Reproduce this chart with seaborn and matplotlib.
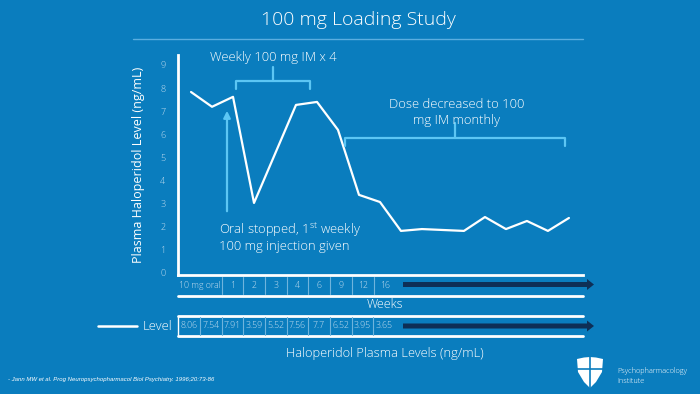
import matplotlib
matplotlib.use("Agg")
import matplotlib.pyplot as plt
import matplotlib.patches as patches
import seaborn as sns
import pandas as pd

sns.set_style("white")
plt.rcParams['font.family'] = ['Open Sans', 'DejaVu Sans']
plt.rcParams['font.weight'] = 'light'
plt.rcParams['mathtext.fontset'] = 'custom'
plt.rcParams['mathtext.rm'] = 'Open Sans:light'

# data
point_idx = [0, 1, 2, 3, 5, 6, 7, 8, 9, 10, 11, 13, 14, 15, 16, 17, 18]
level = [7.83, 7.19, 7.62, 3.03, 7.27, 7.40, 6.19, 3.38, 3.07, 1.82, 1.90,
         1.82, 2.42, 1.90, 2.25, 1.82, 2.38]
yticks = [0, 1, 2, 3, 4, 5, 6, 7, 8, 9]

week_labels = ['10 mg oral', '1', '2', '3', '4', '6', '9', '12', '16']
week_edges = [178, 222, 243, 265, 287, 308, 330, 352, 374, 396]
level_labels = ['8.06', '7.54', '7.91', '3.59', '5.52', '7.56', '7.7', '6.52', '3.95', '3.65']
level_edges = [178, 200, 222, 243, 265, 287, 308, 330, 352, 373, 395]

df = pd.DataFrame({'idx': point_idx, 'level': level})

bg = '#0a7dbe'
light = '#5cc6f4'
navy = '#0e2f56'
tick_col = '#c4def0'
W, H = 700, 394
ann = 9.4

fig = plt.figure(figsize=(7, 3.94), dpi=100, facecolor=bg)

# main chart axes (pixel box 178..583 x 55..275)
ax = fig.add_axes([178 / W, (H - 275) / H, (583 - 178) / W, (275 - 55) / H])
ax.set_facecolor('none')
sns.lineplot(data=df, x='idx', y='level', ax=ax, color='white', linewidth=1.6)
ax.set_xlim(-0.62, 18.67)
ax.set_ylim(-0.087, 9.43)
ax.set_xticks([])
ax.set_yticks(yticks)
ax.set_yticklabels([str(t) for t in yticks], color=tick_col, fontsize=6.5)
ax.tick_params(axis='y', length=0, pad=9)
ax.set_xlabel('')
ax.set_ylabel('Plasma Haloperidol Level (ng/mL)', color='white', fontsize=9, labelpad=11)
for s in ['top', 'right']:
    ax.spines[s].set_visible(False)
for s in ['left', 'bottom']:
    ax.spines[s].set_color('white')
    ax.spines[s].set_linewidth(2)

# overlay in pixel coordinates
ov = fig.add_axes([0, 0, 1, 1])
ov.set_xlim(0, W)
ov.set_ylim(H, 0)
ov.axis('off')
ov.set_facecolor('none')

# title
ov.text(358, 20, '100 mg Loading Study', color='white', fontsize=14, ha='center', va='center')
ov.plot([133, 583], [39, 39], color='#5aaee0', lw=1)

# annotation 1
ov.text(273, 57, 'Weekly 100 mg IM x 4', color='white', fontsize=ann, ha='center', va='center')
ov.plot([236, 236, 310, 310], [89, 81, 81, 89], color=light, lw=1.6)
ov.plot([273, 273], [81, 67], color=light, lw=1.6)
ov.annotate('', xy=(227, 108), xytext=(227, 214),
            arrowprops=dict(arrowstyle='-|>', color=light, lw=1.6, mutation_scale=10))
ov.text(219, 230, 'Oral stopped, 1$^{\\rm st}$ weekly', color='white', fontsize=ann, ha='left', va='center')
ov.text(219, 246, '100 mg injection given', color='white', fontsize=ann, ha='left', va='center')

# annotation 2
ov.text(457, 104, 'Dose decreased to 100', color='white', fontsize=ann, ha='center', va='center')
ov.text(457, 120, 'mg IM monthly', color='white', fontsize=ann, ha='center', va='center')
ov.plot([345, 345, 565, 565], [146, 138, 138, 146], color=light, lw=1.6)
ov.plot([455, 455], [138, 123], color=light, lw=1.6)

# weeks row
for i, lab in enumerate(week_labels):
    ov.text((week_edges[i] + week_edges[i + 1]) / 2, 285.5, lab, color=tick_col,
            fontsize=6.3, ha='center', va='center')
for e in week_edges[1:-1]:
    ov.plot([e, e], [277, 294], color='#6fb4dd', lw=0.8)
ov.plot([178, 583], [296, 296], color='white', lw=2)
ov.add_patch(patches.FancyArrow(403, 284.5, 191, 0, width=5, head_width=11, head_length=7,
                                length_includes_head=True, color=navy, lw=0))
ov.text(385, 305, 'Weeks', color='white', fontsize=9, ha='center', va='center')

# level row
ov.plot([178, 583], [316, 316], color='white', lw=2)
ov.plot([178, 583], [336, 336], color='white', lw=2)
ov.plot([178, 178], [316, 336], color='white', lw=1)
for e in level_edges[1:-1]:
    ov.plot([e, e], [317, 335], color='#6fb4dd', lw=0.8)
for i, lab in enumerate(level_labels):
    ov.text((level_edges[i] + level_edges[i + 1]) / 2, 326, lab, color=tick_col,
            fontsize=6.3, ha='center', va='center')
ov.add_patch(patches.FancyArrow(403, 326, 191, 0, width=5, head_width=11, head_length=7,
                                length_includes_head=True, color=navy, lw=0))
ov.plot([98, 137], [326, 326], color='white', lw=1.8)
ov.text(143, 326, 'Level', color='white', fontsize=ann, ha='left', va='center')
ov.text(385, 353, 'Haloperidol Plasma Levels (ng/mL)', color='white', fontsize=9.3,
        ha='center', va='center')

# footnote
ov.text(8, 380, '- Jann MW et al. Prog Neuropsychopharmacol Biol Psychiatry. 1996;20:73-86',
        color='white', fontsize=4.3, style='italic', family='Liberation Sans', ha='left', va='center')

# logo
shield = [(577, 359), (584, 357.5), (590, 357), (596, 357.5), (603, 359),
          (602, 372), (596, 382), (590, 388), (584, 382), (578, 372)]
ov.add_patch(patches.Polygon(shield, closed=True, color='white', lw=0))
ov.plot([590, 590], [357, 388], color=bg, lw=1.2)
ov.plot([576, 604], [369, 369], color=bg, lw=1.2)
ov.text(617, 371, 'Psychopharmacology', color='white', fontsize=5.3, ha='left', va='center')
ov.text(617, 381, 'Institute', color='white', fontsize=5.3, ha='left', va='center')

fig.savefig('out.png', dpi=100, facecolor=bg)
